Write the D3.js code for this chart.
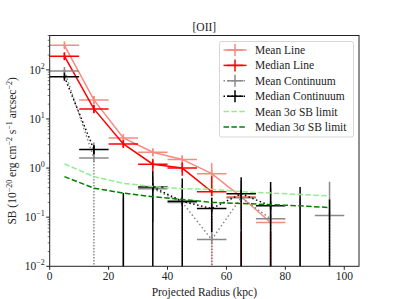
<!DOCTYPE html>
<html>
<head>
<meta charset="utf-8">
<script src="https://cdn.jsdelivr.net/npm/d3@7"></script>
<style>
body { margin: 0; background: #fff; }
text { font-family: "Liberation Serif", "DejaVu Serif", serif; fill: #222; }
</style>
</head>
<body>
<div id="container"></div>
<script>
// projected radius bins (kpc)
const radius = [5, 15, 25, 35, 45, 55, 65, 75, 85, 95];
const binHalf = 5;

// surface brightness, 1e-20 erg/cm2/s/arcsec2 (negative = not shown on log axis)
const meanLine = [316, 24.4, 4.1, 2.1, 1.5, 0.77, 0.26, 0.078, null, null];
const meanLineErr = [40, 5, 0.6, 0.35, 0.3, 0.5, 0.2, 0.09, null, null];
const medianLine = [190, 16, 3.1, 1.2, 1.0, 0.33, -0.05, -0.05, null, null];
const medianLineErr = [30, 3, 0.4, 0.35, 0.3, 0.35, 0.1, 0.1, null, null];
const meanCont = [95, 1.6, -0.05, 0.38, 0.2, 0.035, 0.25, 0.093, -0.05, 0.108];
const meanContErr = [8, 1.7, 0.3, 0.3, 0.25, 0.06, 0.3, 0.3, 0.3, 0.42];
const medianCont = [72, 2.4, -0.05, 0.41, 0.21, 0.15, 0.30, 0.17, -0.05, -0.05];
const medianContErr = [6, 0.5, 0.36, 0.45, 0.4, 0.1, 0.35, 0.35, 0.46, 0.28];
const meanLimit = [1.22, 0.67, 0.49, 0.42, 0.38, 0.37, 0.33, 0.31, 0.29, 0.27];
const medianLimit = [0.67, 0.39, 0.31, 0.26, 0.23, 0.20, 0.19, 0.18, 0.17, 0.157];

const xTicks = [0, 20, 40, 60, 80, 100];
const yTicks = [-2, -1, 0, 1, 2];

const W = 399, H = 299;
const m = {left: 49.7, right: 359, top: 35.5, bottom: 266.3};

const svg = d3.select("#container").append("svg")
    .attr("width", W).attr("height", H);

const x = d3.scaleLinear().domain([0, 105]).range([m.left, m.right]);
const y = d3.scaleLog().domain([0.01, 500]).range([m.bottom, m.top]);

svg.append("defs").append("clipPath").attr("id", "clip")
    .append("rect").attr("x", m.left).attr("y", m.top)
    .attr("width", m.right - m.left).attr("height", m.bottom - m.top);

const plot = svg.append("g").attr("clip-path", "url(#clip)");

function errSeries(vals, errs, color, dash) {
    const g = plot.append("g");
    const pts = radius.map((r, i) => ({r: r, v: vals[i], e: errs[i]})).filter(d => d.v !== null);
    // connecting line, broken where value is not positive
    const line = d3.line().defined(d => d.v > 0).x(d => x(d.r)).y(d => y(d.v));
    g.append("path").datum(pts).attr("d", line)
        .attr("fill", "none").attr("stroke", color).attr("stroke-width", 1.5)
        .attr("stroke-dasharray", dash);
    pts.forEach(d => {
        const lo = d.v - d.e, hi = d.v + d.e;
        if (hi > 0) {
            const yHi = y(hi);
            const yMid = d.v > 0 ? y(d.v) : m.bottom + 20;
            g.append("line").attr("x1", x(d.r)).attr("x2", x(d.r))
                .attr("y1", yHi).attr("y2", lo > 0 ? y(lo) : yMid)
                .attr("stroke", color).attr("stroke-width", 1.5);
            if (lo <= 0 && d.v > 0) {
                g.append("line").attr("x1", x(d.r)).attr("x2", x(d.r))
                    .attr("y1", yMid).attr("y2", m.bottom + 20)
                    .attr("stroke", color).attr("stroke-width", 1.5)
                    .attr("stroke-dasharray", color === "#000" ? null : "1.5,1.5");
            }
        }
        if (d.v > 0) {
            g.append("line").attr("x1", x(d.r - binHalf)).attr("x2", x(d.r + binHalf))
                .attr("y1", y(d.v)).attr("y2", y(d.v))
                .attr("stroke", color).attr("stroke-width", 1.5);
            g.append("line").attr("x1", x(d.r)).attr("x2", x(d.r))
                .attr("y1", y(d.v) - 4).attr("y2", y(d.v) + 4)
                .attr("stroke", color).attr("stroke-width", 1.5);
        }
    });
}

function limitSeries(vals, color) {
    const line = d3.line().x((d, i) => x(radius[i])).y(d => y(d));
    plot.append("path").datum(vals).attr("d", line)
        .attr("fill", "none").attr("stroke", color).attr("stroke-width", 1.5)
        .attr("stroke-dasharray", "5.5,2.4");
}

errSeries(meanLine, meanLineErr, "#f88a80", null);
errSeries(medianLine, medianLineErr, "#ff0000", null);
errSeries(meanCont, meanContErr, "#888", "1.5,2.5");
errSeries(medianCont, medianContErr, "#000", "1.5,2.5");
limitSeries(meanLimit, "#90ee90");
limitSeries(medianLimit, "#008000");

// frame
svg.append("rect").attr("x", m.left).attr("y", m.top)
    .attr("width", m.right - m.left).attr("height", m.bottom - m.top)
    .attr("fill", "none").attr("stroke", "#222").attr("stroke-width", 1);

// x axis
xTicks.forEach(t => {
    svg.append("line").attr("x1", x(t)).attr("x2", x(t))
        .attr("y1", m.bottom).attr("y2", m.bottom + 3.5).attr("stroke", "#222");
    svg.append("text").attr("x", x(t)).attr("y", m.bottom + 14)
        .attr("text-anchor", "middle").attr("font-size", 11.5).text(t);
});
svg.append("text").attr("x", (m.left + m.right) / 2).attr("y", 296)
    .attr("text-anchor", "middle").attr("font-size", 11.5).text("Projected Radius (kpc)");

// y axis (log) with minor ticks
yTicks.forEach(p => {
    const yy = y(Math.pow(10, p));
    svg.append("line").attr("x1", m.left - 3.5).attr("x2", m.left)
        .attr("y1", yy).attr("y2", yy).attr("stroke", "#222");
    const t = svg.append("text").attr("x", m.left - 5).attr("y", yy + 4)
        .attr("text-anchor", "end").attr("font-size", 11.5);
    t.append("tspan").text("10");
    t.append("tspan").attr("dy", -5).attr("font-size", 8).text(p < 0 ? "\u2212" + (-p) : p);
});
for (let p = -2; p <= 2; p++) {
    for (let k = 2; k <= 9; k++) {
        const v = k * Math.pow(10, p);
        if (v > 500) continue;
        svg.append("line").attr("x1", m.left - 2).attr("x2", m.left)
            .attr("y1", y(v)).attr("y2", y(v)).attr("stroke", "#222").attr("stroke-width", 0.6);
    }
}
const yl = svg.append("text").attr("transform", `translate(16,${(m.top + m.bottom) / 2}) rotate(-90)`)
    .attr("text-anchor", "middle").attr("font-size", 11.5);
yl.append("tspan").text("SB (10");
yl.append("tspan").attr("dy", -4).attr("font-size", 8).text("\u221220");
yl.append("tspan").attr("dy", 4).text(" erg cm");
yl.append("tspan").attr("dy", -4).attr("font-size", 8).text("\u22122");
yl.append("tspan").attr("dy", 4).text(" s");
yl.append("tspan").attr("dy", -4).attr("font-size", 8).text("\u22121");
yl.append("tspan").attr("dy", 4).text(" arcsec");
yl.append("tspan").attr("dy", -4).attr("font-size", 8).text("\u22122");
yl.append("tspan").attr("dy", 4).text(")");

// title
svg.append("text").attr("x", (m.left + m.right) / 2).attr("y", 31)
    .attr("text-anchor", "middle").attr("font-size", 11.5).text("[OII]");

// legend
const legendItems = [
    {label: "Mean Line", color: "#f88a80", dash: null, err: true},
    {label: "Median Line", color: "#ff0000", dash: null, err: true},
    {label: "Mean Continuum", color: "#888", dash: "1.5,2.5", err: true},
    {label: "Median Continuum", color: "#000", dash: "1.5,2.5", err: true},
    {label: "Mean 3\u03c3 SB limit", color: "#90ee90", dash: "5.5,2.4", err: false},
    {label: "Median 3\u03c3 SB limit", color: "#008000", dash: "5.5,2.4", err: false}
];
const lg = svg.append("g");
lg.append("rect").attr("x", 219.5).attr("y", 41.5).attr("width", 134).attr("height", 95.5)
    .attr("rx", 2).attr("fill", "#fff").attr("fill-opacity", 0.8)
    .attr("stroke", "#ccc").attr("stroke-width", 0.8);
legendItems.forEach((d, i) => {
    const yy = 50 + i * 15.4;
    lg.append("line").attr("x1", 223.5).attr("x2", 246.5).attr("y1", yy).attr("y2", yy)
        .attr("stroke", d.color).attr("stroke-width", 1.5).attr("stroke-dasharray", d.dash);
    if (d.err) {
        lg.append("line").attr("x1", 227).attr("x2", 243).attr("y1", yy).attr("y2", yy)
            .attr("stroke", d.color).attr("stroke-width", 1.5);
        lg.append("line").attr("x1", 235).attr("x2", 235).attr("y1", yy - 6).attr("y2", yy + 6)
            .attr("stroke", d.color).attr("stroke-width", 1.5);
    }
    lg.append("text").attr("x", 255).attr("y", yy + 4).attr("font-size", 11.5).text(d.label);
});
</script>
</body>
</html>
